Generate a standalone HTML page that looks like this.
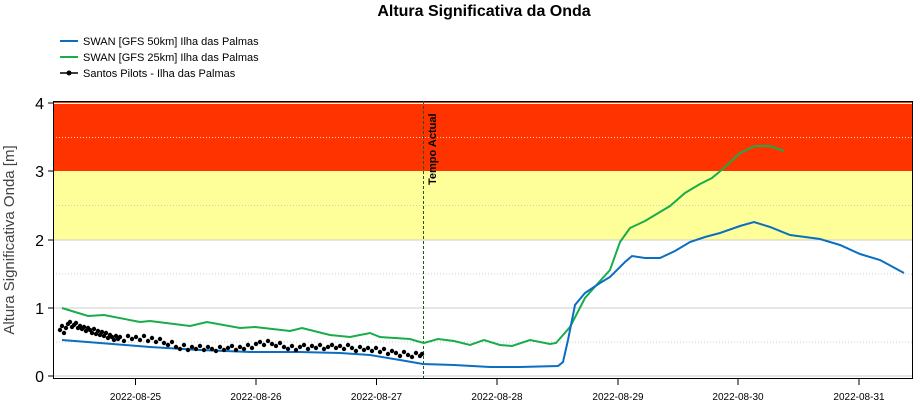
<!DOCTYPE html>
<html><head><style>body{margin:0;background:#fff;font-family:"Liberation Sans",sans-serif}</style></head><body>
<svg width="914" height="402" xmlns="http://www.w3.org/2000/svg" font-family="Liberation Sans, sans-serif">
<text x="484" y="16" text-anchor="middle" font-size="16" font-weight="bold">Altura Significativa da Onda</text>
<line x1="60" y1="41" x2="78" y2="41" stroke="#0a6fc2" stroke-width="2"/><text x="83" y="45" font-size="11">SWAN [GFS 50km] Ilha das Palmas</text>
<line x1="60" y1="57" x2="78" y2="57" stroke="#17ad4a" stroke-width="2"/><text x="83" y="61" font-size="11">SWAN [GFS 25km] Ilha das Palmas</text>
<line x1="60" y1="73" x2="78" y2="73" stroke="#000" stroke-width="1.5"/><circle cx="69" cy="73" r="2.5"/><text x="83" y="77" font-size="11">Santos Pilots - Ilha das Palmas</text>
<rect x="53" y="101" width="860" height="70" fill="#ff3300"/>
<rect x="53" y="171" width="860" height="69" fill="#ffff99"/>
<line x1="53" y1="103.5" x2="913" y2="103.5" stroke="#fff"/>
<g stroke="#ccc" stroke-width="1"><line x1="53" y1="240" x2="913" y2="240"/><line x1="53" y1="308" x2="913" y2="308"/><line x1="53" y1="376" x2="913" y2="376"/></g>
<g stroke="#ccc" stroke-width="1" stroke-dasharray="1,2"><line x1="53" y1="137.5" x2="913" y2="137.5" stroke="#fff" opacity=".8"/><line x1="53" y1="205.5" x2="913" y2="205.5"/><line x1="53" y1="274" x2="913" y2="274"/><line x1="53" y1="342" x2="913" y2="342"/></g>
<rect x="53.5" y="101.5" width="859" height="277" fill="none" stroke="#000" stroke-width="1"/>
<g stroke="#000"><line x1="48" y1="103" x2="53" y2="103"/><line x1="48" y1="171" x2="53" y2="171"/><line x1="48" y1="240" x2="53" y2="240"/><line x1="48" y1="308" x2="53" y2="308"/><line x1="48" y1="376" x2="53" y2="376"/>
<line x1="135.5" y1="379" x2="135.5" y2="385"/><line x1="256" y1="379" x2="256" y2="385"/><line x1="376.5" y1="379" x2="376.5" y2="385"/><line x1="497" y1="379" x2="497" y2="385"/><line x1="618" y1="379" x2="618" y2="385"/><line x1="738" y1="379" x2="738" y2="385"/><line x1="859" y1="379" x2="859" y2="385"/></g>
<g font-size="16" text-anchor="end"><text x="44" y="109">4</text><text x="44" y="177">3</text><text x="44" y="246">2</text><text x="44" y="314">1</text><text x="44" y="382">0</text></g>
<g font-size="10" text-anchor="middle"><text x="135.5" y="400">2022-08-25</text><text x="256" y="400">2022-08-26</text><text x="376.5" y="400">2022-08-27</text><text x="497" y="400">2022-08-28</text><text x="618" y="400">2022-08-29</text><text x="738" y="400">2022-08-30</text><text x="859" y="400">2022-08-31</text></g>
<text transform="translate(14,240) rotate(-90)" font-size="15" fill="#444" text-anchor="middle">Altura Significativa Onda [m]</text>
<line x1="423.5" y1="101" x2="423.5" y2="378" stroke="#1a5a1a" stroke-dasharray="3,2"/>
<text transform="translate(436,185) rotate(-90)" font-size="11" font-weight="bold">Tempo Actual</text>
<polyline fill="none" stroke="#17ad4a" stroke-width="2" points="62,308 88,316 104,315 140,322 150,321 190,326 207,322 240,328 255,327 290,331 302,328 330,335 350,337 370,333 380,337 395,338 410,339 420,342 424,343 438,339 454,341 470,345 484,340 500,345 512,346 530,340 550,344 556,343 570,327 585,298 600,281 610,270 620,242 630,228 645,221 670,206 685,193 700,184 712,178 725,167 740,153 755,146 770,146 784,151"/>
<polyline fill="none" stroke="#0a6fc2" stroke-width="2" points="62,340 100,343 150,347 200,350 250,352 300,352 340,353 370,355 400,360 423,364 454,365 490,367 520,367 558,366 563,362 568,340 575,305 585,293 600,283 610,277 625,262 632,256 645,258 660,258 675,251 690,242 705,237 720,233 740,226 754,222 770,227 790,235 805,237 820,239 840,245 860,254 880,260 904,273"/>
<path fill="none" stroke="#000" stroke-width="4.4" stroke-linecap="round" d="M60 330h0M62 326h0M64 333h0M66 328h0M68 324h0M70 322h0M72 327h0M74 325h0M76 323h0M78 328h0M80 326h0M82 329h0M84 327h0M86 331h0M88 328h0M90 330h0M92 333h0M94 329h0M96 334h0M98 331h0M100 335h0M102 332h0M104 336h0M106 333h0M108 338h0M110 335h0M112 337h0M114 340h0M116 336h0M118 339h0M120 337h0M124 341h0M128 336h0M132 339h0M136 337h0M140 340h0M144 336h0M148 341h0M152 338h0M156 342h0M160 339h0M164 343h0M168 345h0M172 342h0M176 347h0M180 349h0M184 345h0M188 350h0M192 347h0M196 349h0M200 346h0M204 350h0M208 347h0M212 349h0M216 351h0M220 347h0M224 350h0M228 348h0M232 346h0M236 350h0M240 347h0M244 349h0M248 345h0M252 348h0M256 344h0M260 342h0M264 345h0M268 341h0M272 344h0M276 346h0M280 343h0M284 347h0M288 349h0M292 346h0M296 350h0M300 347h0M304 345h0M308 349h0M312 346h0M316 348h0M320 345h0M324 349h0M328 347h0M332 345h0M336 348h0M340 346h0M344 349h0M348 345h0M352 348h0M356 351h0M360 347h0M364 350h0M368 348h0M372 351h0M376 348h0M380 352h0M384 349h0M388 354h0M392 351h0M396 353h0M400 356h0M404 352h0M408 355h0M412 357h0M416 353h0M420 356h0M422 354h0"/>
</svg>
</body></html>
